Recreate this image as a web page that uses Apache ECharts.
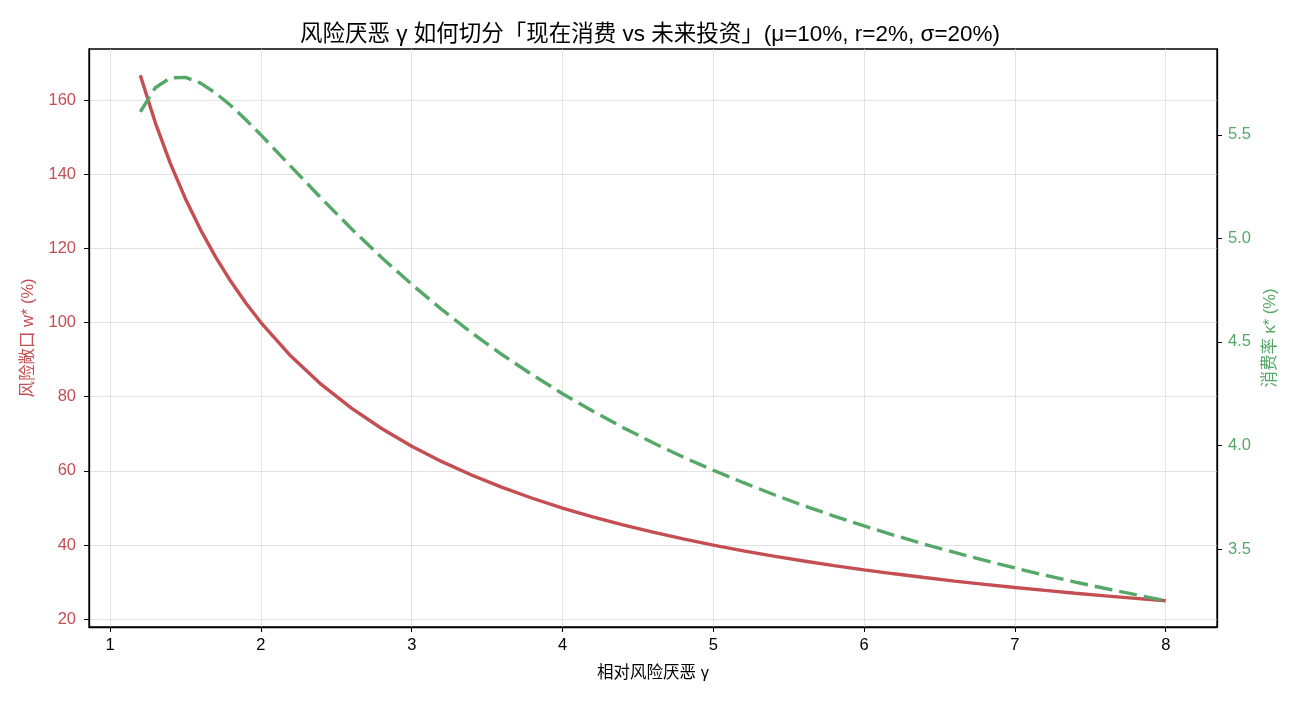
<!DOCTYPE html>
<html>
<head>
<meta charset="utf-8">
<script src="https://cdn.jsdelivr.net/npm/echarts@6/dist/echarts.min.js"></script>
<style>
  html, body { margin: 0; padding: 0; background: #fff; }
  #chart { width: 1300px; height: 702px; }
</style>
</head>
<body>
<div id="chart"></div>
<script>
// 相对风险厌恶 γ
const gamma = [1.2, 1.3, 1.4, 1.5, 1.6, 1.7, 1.8, 1.9, 2.0, 2.2, 2.4, 2.6, 2.8, 3.0, 3.2, 3.4, 3.6, 3.8, 4.0,
  4.2, 4.4, 4.6, 4.8, 5.0, 5.2, 5.4, 5.6, 5.8, 6.0, 6.2, 6.4, 6.6, 6.8, 7.0, 7.2, 7.4, 7.6, 7.8, 8.0]
// 风险敞口 w* (%)
const riskyShare = [166.67, 153.85, 142.86, 133.33, 125.0, 117.65, 111.11, 105.26, 100.0, 90.91, 83.33, 76.92,
  71.43, 66.67, 62.5, 58.82, 55.56, 52.63, 50.0, 47.62, 45.45, 43.48, 41.67, 40.0, 38.46, 37.04, 35.71, 34.48,
  33.33, 32.26, 31.25, 30.3, 29.41, 28.57, 27.78, 27.03, 26.32, 25.64, 25.0]
// 消费率 κ* (%)
const consumeRate = [5.611, 5.728, 5.776, 5.778, 5.75, 5.702, 5.642, 5.573, 5.5, 5.347, 5.194, 5.047, 4.908,
  4.778, 4.656, 4.543, 4.438, 4.341, 4.25, 4.166, 4.087, 4.013, 3.944, 3.88, 3.82, 3.763, 3.709, 3.659, 3.611,
  3.566, 3.523, 3.483, 3.445, 3.408, 3.373, 3.34, 3.309, 3.279, 3.25]
// tick labels
const xTicks = [1, 2, 3, 4, 5, 6, 7, 8]
const leftTicks = [20, 40, 60, 80, 100, 120, 140, 160]
const rightTicks = [3.5, 4.0, 4.5, 5.0, 5.5]

const RED = '#c44e52'
const GREEN = '#55a868'
const FONT = '"Liberation Sans", Arial, "Noto Sans CJK SC", sans-serif'

const chart = echarts.init(document.getElementById('chart'))
const option = {
  backgroundColor: '#fff',
  animation: false,
  textStyle: { fontFamily: FONT },
  title: {
    text: '风险厌恶 γ 如何切分「现在消费 vs 未来投资」(μ=10%, r=2%, σ=20%)',
    left: 'center',
    top: 19,
    textStyle: { fontFamily: FONT, fontSize: 22.5, fontWeight: 'normal', color: '#000' },
  },
  grid: {
    left: 89,
    right: 83,
    top: 49,
    bottom: 75,
    show: true,
    borderColor: '#000',
    borderWidth: 1.3,
  },
  xAxis: {
    type: 'value',
    min: 0.86,
    max: 8.34,
    name: '相对风险厌恶 γ',
    nameLocation: 'middle',
    nameGap: 38,
    nameTextStyle: { fontFamily: FONT, fontSize: 16.5, color: '#000' },
    axisLine: { show: true, lineStyle: { color: '#000', width: 1.3 } },
    axisTick: { show: true, length: 5, customValues: xTicks, lineStyle: { color: '#000' } },
    axisLabel: {
      customValues: xTicks,
      color: '#000',
      fontSize: 16.5,
      margin: 10,
      formatter: (v) => String(v),
    },
    splitLine: { show: true, lineStyle: { color: '#dcdcdc', width: 0.8 } },
  },
  yAxis: [
    {
      type: 'value',
      position: 'left',
      min: 17.92,
      max: 173.75,
      name: '风险敞口 w* (%)',
      nameLocation: 'middle',
      nameRotate: 90,
      nameGap: 52,
      nameTextStyle: { fontFamily: FONT, fontSize: 16.5, color: RED },
      axisLine: { show: true, lineStyle: { color: '#000', width: 1.3 } },
      axisTick: { show: true, length: 5, customValues: leftTicks, lineStyle: { color: '#000' } },
      axisLabel: {
        customValues: leftTicks,
        color: RED,
        fontSize: 16.5,
        margin: 13,
        formatter: (v) => String(v),
      },
      splitLine: { show: true, lineStyle: { color: '#dcdcdc', width: 0.8 } },
    },
    {
      type: 'value',
      position: 'right',
      min: 3.123,
      max: 5.915,
      name: '消费率 κ* (%)',
      nameLocation: 'middle',
      nameRotate: 90,
      nameGap: 45,
      nameTextStyle: { fontFamily: FONT, fontSize: 16.5, color: GREEN },
      axisLine: { show: true, lineStyle: { color: '#000', width: 1.3 } },
      axisTick: { show: true, length: 5, customValues: rightTicks, lineStyle: { color: '#000' } },
      axisLabel: {
        customValues: rightTicks,
        color: GREEN,
        fontSize: 16.5,
        margin: 11,
        formatter: (v) => v.toFixed(1),
      },
      splitLine: { show: false },
    },
  ],
  series: [
    {
      name: '风险敞口 w*',
      type: 'line',
      yAxisIndex: 0,
      data: gamma.map((g, i) => [g, riskyShare[i]]),
      showSymbol: false,
      lineStyle: { color: RED, width: 3.4 },
      z: 3,
    },
    {
      name: '消费率 κ*',
      type: 'line',
      yAxisIndex: 1,
      data: gamma.map((g, i) => [g, consumeRate[i]]),
      showSymbol: false,
      lineStyle: { color: GREEN, width: 3.4, type: [18, 7] },
      z: 4,
    },
  ],
}
chart.setOption(option)
window.addEventListener('resize', () => {
  chart.resize()
})
</script>
</body>
</html>
